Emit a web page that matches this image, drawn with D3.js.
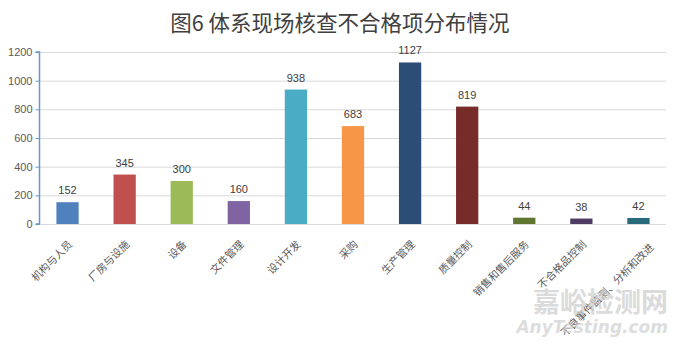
<!DOCTYPE html>
<html><head><meta charset="utf-8">
<script src="https://cdn.jsdelivr.net/npm/d3@7"></script>
<style>
html,body{margin:0;padding:0;background:#fff;}
svg{display:block;font-family:"Noto Sans CJK SC","Noto Sans",sans-serif;}
</style></head>
<body>
<svg id="chart" width="680" height="346"></svg>
<script>
const categories = ["机构与人员","厂房与设施","设备","文件管理","设计开发","采购","生产管理","质量控制","销售和售后服务","不合格品控制","不良事件监测、分析和改进"];
const values = [152,345,300,160,938,683,1127,819,44,38,42];
const colors = ["#4f81bd","#c0504d","#9bbb59","#8064a2","#4bacc6","#f79646","#2c4d75","#772c2a","#5f7530","#4d3b62","#276a7c"];
const yTicks = [0,200,400,600,800,1000,1200];
const title = "图6 体系现场核查不合格项分布情况";

(function(){
const svg = d3.select("#chart");
const pLeft = 39, pRight = 667, pTop = 52, pBottom = 224;

const x = d3.scaleBand().domain(categories).range([pLeft, pRight]).paddingInner(0.61).paddingOuter(0.305);
const y = d3.scaleLinear().domain([0,1200]).range([pBottom, pTop]);

// title
svg.append("text").attr("x", 340).attr("y", 31).attr("text-anchor","middle")
  .attr("font-size", 21.5).attr("fill","#404040").text(title);

// gridlines
svg.append("g").selectAll("line").data(yTicks.filter(d=>d>0)).join("line")
  .attr("x1", pLeft).attr("x2", pRight-1).attr("y1", d=>y(d)+0.5).attr("y2", d=>y(d)+0.5)
  .attr("stroke","#d9d9d9").attr("stroke-width",1);

// bars
svg.append("g").selectAll("rect").data(values).join("rect")
  .attr("x", (d,i)=>x(categories[i]))
  .attr("width", x.bandwidth())
  .attr("y", d=>y(d))
  .attr("height", d=>pBottom - y(d))
  .attr("fill", (d,i)=>colors[i]);

// value labels
svg.append("g").selectAll("text").data(values).join("text")
  .attr("x", (d,i)=>x(categories[i]) + x.bandwidth()/2)
  .attr("y", d=>y(d) - 8)
  .attr("text-anchor","middle").attr("font-size",11).attr("fill","#404040")
  .attr("font-family","Liberation Sans, Arial, sans-serif")
  .text(d=>d);

// x axis baseline
svg.append("line").attr("x1", pLeft).attr("x2", pRight-1).attr("y1", pBottom+0.5).attr("y2", pBottom+0.5)
  .attr("stroke","#d9d9d9");

// y axis
const yAxis = d3.axisLeft(y).tickValues(yTicks).tickFormat(d3.format("d")).tickSize(4).tickPadding(3);
const gy = svg.append("g").attr("transform", `translate(${pLeft+0.5},0)`).call(yAxis);
gy.select(".domain").attr("stroke","#6a96d0").attr("stroke-width",1.5).attr("d", `M-4,${pTop}H0V${pBottom}H-4`);
gy.selectAll(".tick line").attr("stroke","#6a96d0");
gy.selectAll(".tick text").attr("fill","#595959").attr("font-size",11)
  .attr("font-family","Liberation Sans, Arial, sans-serif");

// x labels (the longest label sits a little right, as in the original)
const gx = svg.append("g");
categories.forEach((c,i)=>{
  const last = i === categories.length - 1;
  const cx = x(c) + x.bandwidth()/2 + (last ? 16 : 5.5);
  const cy = pBottom + (last ? 24 : 21);
  gx.append("text").attr("transform", `translate(${cx},${cy}) rotate(-45)`)
    .attr("text-anchor","end").attr("font-size",10.5).attr("fill","#595959").text(c);
});

// watermark (semi-transparent, over the labels)
svg.append("text").attr("x", 668).attr("y", 312).attr("text-anchor","end")
  .attr("font-size",27).attr("font-weight","bold").attr("fill","#cccccc").attr("opacity",0.7).text("嘉峪检测网");
svg.append("text").attr("x", 668).attr("y", 333).attr("text-anchor","end")
  .attr("font-size",17).attr("font-weight","bold").attr("font-style","italic")
  .attr("font-family","DejaVu Sans, sans-serif").attr("fill","#d0d0d0").attr("opacity",0.7).text("AnyTesting.com");
})();
</script>
</body></html>
